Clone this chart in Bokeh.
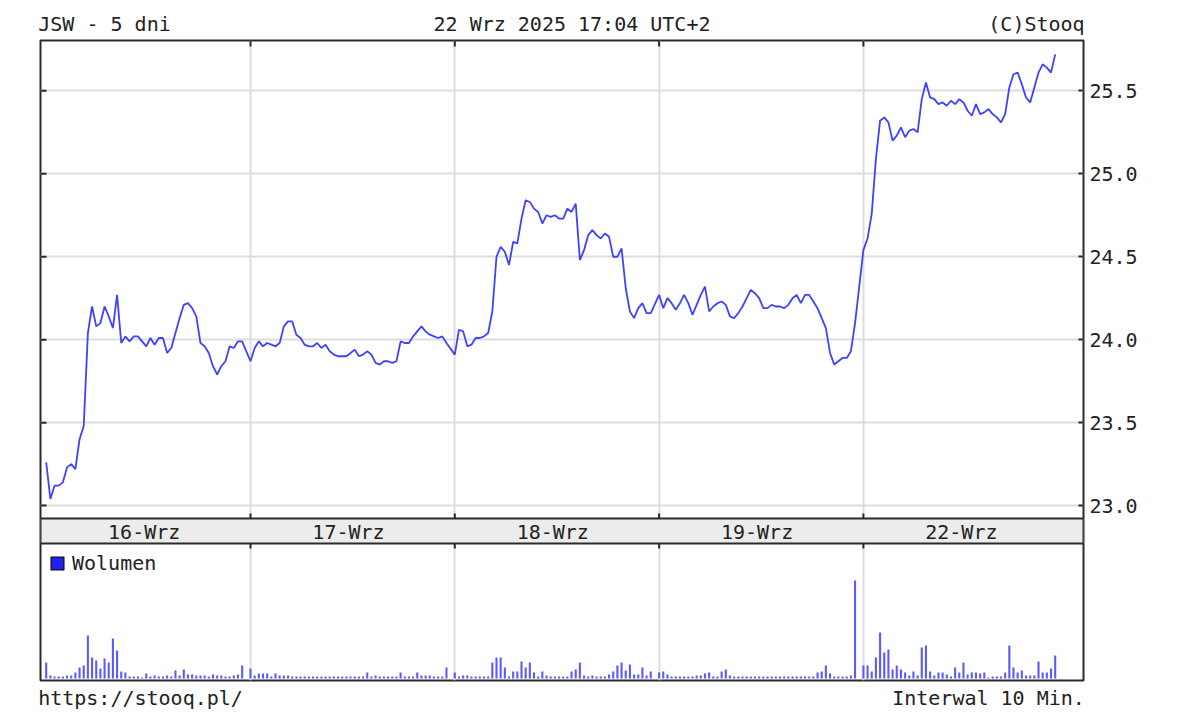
from bokeh.plotting import figure
from bokeh.models import (Range1d, LinearAxis, FixedTicker, PrintfTickFormatter, BoxAnnotation,
                          LabelSet, ColumnDataSource, Legend, LegendItem, Grid)
from bokeh.core.properties import value
from bokeh.embed import file_html
from bokeh.resources import INLINE

# ---------------- data ----------------
TITLE_LEFT = "JSW - 5 dni"
TITLE_CENTER = "22 Wrz 2025 17:04 UTC+2"
TITLE_RIGHT = "(C)Stooq"
FOOT_LEFT = "https://stooq.pl/"
FOOT_RIGHT = "Interwal 10 Min."
VOLUME_LABEL = "Wolumen"

day_labels = ["16-Wrz", "17-Wrz", "18-Wrz", "19-Wrz", "22-Wrz"]
price_ticks = [23.0, 23.5, 24.0, 24.5, 25.0, 25.5]

# 10-minute closes per session
price_16 = [23.26, 23.04, 23.12, 23.12, 23.14, 23.23, 23.25, 23.22, 23.40, 23.48,
            24.04, 24.20, 24.08, 24.10, 24.20, 24.14, 24.07, 24.27, 23.98, 24.02,
            23.99, 24.02, 24.02, 23.99, 23.96, 24.01, 23.97, 24.01, 24.01, 23.92,
            23.95, 24.04, 24.13, 24.21, 24.22, 24.19, 24.14, 23.98, 23.96, 23.92,
            23.84, 23.79, 23.84, 23.87, 23.96, 23.95, 23.99, 23.99]
price_17 = [23.87, 23.95, 23.99, 23.96, 23.98, 23.97, 23.96, 23.98, 24.08, 24.11,
            24.11, 24.03, 24.01, 23.97, 23.96, 23.96, 23.98, 23.95, 23.97, 23.93,
            23.91, 23.90, 23.90, 23.90, 23.92, 23.94, 23.90, 23.91, 23.93, 23.91,
            23.86, 23.85, 23.87, 23.87, 23.86, 23.87, 23.99, 23.98, 23.98, 24.02,
            24.05, 24.08, 24.05, 24.03, 24.02, 24.01, 24.02, 23.98]
price_18 = [23.91, 24.06, 24.05, 23.96, 23.97, 24.01, 24.01, 24.02, 24.04, 24.17,
            24.50, 24.56, 24.53, 24.45, 24.59, 24.58, 24.73, 24.84, 24.83, 24.79,
            24.77, 24.70, 24.75, 24.74, 24.75, 24.73, 24.73, 24.79, 24.77, 24.82,
            24.48, 24.54, 24.63, 24.66, 24.63, 24.61, 24.64, 24.62, 24.50, 24.50,
            24.55, 24.31, 24.17, 24.13, 24.19, 24.22, 24.16, 24.16]
price_19 = [24.27, 24.19, 24.25, 24.22, 24.18, 24.22, 24.27, 24.22, 24.15, 24.21,
            24.27, 24.32, 24.17, 24.20, 24.22, 24.23, 24.21, 24.14, 24.13, 24.16,
            24.20, 24.25, 24.30, 24.28, 24.25, 24.19, 24.19, 24.21, 24.20, 24.20,
            24.19, 24.21, 24.25, 24.27, 24.22, 24.27, 24.27, 24.23, 24.19, 24.13,
            24.07, 23.92, 23.85, 23.87, 23.89, 23.89, 23.93, 24.10]
price_22 = [24.54, 24.61, 24.76, 25.09, 25.32, 25.34, 25.31, 25.20, 25.23, 25.28,
            25.22, 25.26, 25.27, 25.25, 25.45, 25.55, 25.46, 25.45, 25.42, 25.43,
            25.41, 25.44, 25.42, 25.45, 25.43, 25.38, 25.35, 25.42, 25.36, 25.37,
            25.39, 25.36, 25.34, 25.31, 25.36, 25.52, 25.60, 25.61, 25.54, 25.46,
            25.43, 25.52, 25.61, 25.66, 25.64, 25.61, 25.72]

# volume per 10-minute bar (thousand shares, approx.)
vol_16 = [16, 3, 2, 2, 2, 3, 3, 6, 11, 13, 43, 21, 18, 10, 20, 16, 40, 28, 7, 6,
          2, 2, 2, 1, 5, 2, 3, 2, 2, 3, 2, 8, 3, 9, 4, 4, 3, 3, 3, 2,
          4, 3, 3, 2, 2, 3, 4, 13]
vol_17 = [10, 3, 5, 5, 5, 2, 5, 3, 3, 3, 2, 2, 2, 2, 2, 2, 2, 2, 2, 2,
          2, 2, 2, 2, 2, 2, 2, 2, 6, 2, 3, 2, 2, 2, 2, 2, 6, 2, 2, 2,
          6, 3, 3, 3, 2, 2, 2, 11]
vol_18 = [6, 2, 3, 3, 2, 2, 2, 2, 2, 16, 21, 21, 11, 2, 7, 7, 17, 11, 16, 6,
          2, 7, 3, 2, 2, 2, 2, 2, 7, 9, 16, 3, 2, 3, 2, 2, 2, 4, 7, 13,
          16, 8, 14, 4, 4, 11, 3, 7]
vol_19 = [6, 7, 4, 2, 2, 2, 2, 2, 2, 3, 3, 5, 6, 2, 2, 7, 9, 3, 2, 2,
          2, 2, 2, 2, 2, 2, 2, 2, 2, 2, 2, 2, 2, 2, 2, 2, 2, 2, 6, 7,
          13, 5, 2, 2, 2, 2, 3, 98]
vol_22 = [13, 13, 7, 21, 46, 26, 29, 9, 13, 9, 6, 3, 7, 3, 31, 33, 7, 3, 6, 6,
          4, 2, 11, 6, 16, 4, 6, 6, 5, 6, 1, 2, 2, 2, 6, 33, 11, 6, 8, 3,
          3, 3, 17, 6, 6, 10, 23]

prices = [price_16, price_17, price_18, price_19, price_22]
volumes = [vol_16, vol_17, vol_18, vol_19, vol_22]

# ---------------- layout / style ----------------
FONT = "DejaVu Sans Mono"
FS = "20px"
TEXT_COLOR = "#222222"
FRAME_COLOR = "#2a2a2a"
GRID_COLOR = "#dddddd"
LINE_COLOR = "#4040ff"
BAR_COLOR = "#5a5aff"

W, H = 1180, 715
FRAME_L, FRAME_R, FRAME_T, FRAME_B = 40, 1083, 40, 680
BAND_T, BAND_B = 518, 543
TICK_LEN = 5
SLOTS_PER_DAY = 49
SLOT_PX = 204.3 / SLOTS_PER_DAY
X0_PX = 45.7
PRICE_MID, PRICE_MID_PX, PX_PER_UNIT = 24.25, 297.7, 165.9
VOL_BASE_PX = 678
VOL_PER_PX = 1.0


def x_at(px):
    return (px - X0_PX) / SLOT_PX


def p_at(py):
    return PRICE_MID + (PRICE_MID_PX - py) / PX_PER_UNIT


xs, ys, vxs, vvs = [], [], [], []
for d, (pr, vo) in enumerate(zip(prices, volumes)):
    for i, pv in enumerate(pr):
        xs.append(d * SLOTS_PER_DAY + i)
        ys.append(pv)
    for i, vv in enumerate(vo):
        vxs.append(d * SLOTS_PER_DAY + i)
        vvs.append(vv)

p = figure(width=W, height=H,
           x_range=Range1d(x_at(FRAME_L), x_at(FRAME_R)),
           y_range=Range1d(p_at(FRAME_B), p_at(FRAME_T)),
           x_axis_type=None, y_axis_type=None,
           output_backend="svg", toolbar_location=None,
           min_border_left=FRAME_L, min_border_right=W - FRAME_R,
           min_border_top=FRAME_T, min_border_bottom=H - FRAME_B,
           background_fill_color="white", border_fill_color="white",
           outline_line_color=FRAME_COLOR, outline_line_width=2)
p.extra_y_ranges = {"vol": Range1d(-(FRAME_B - VOL_BASE_PX) * VOL_PER_PX,
                                   (VOL_BASE_PX - FRAME_T) * VOL_PER_PX)}

day_bounds = [d * SLOTS_PER_DAY for d in range(1, len(day_labels))]

p.add_layout(Grid(dimension=0, ticker=FixedTicker(ticks=day_bounds),
                  grid_line_color=GRID_COLOR, grid_line_width=2))
p.add_layout(Grid(dimension=1, ticker=FixedTicker(ticks=price_ticks),
                  grid_line_color=GRID_COLOR, grid_line_width=2))


def text_axis(ax, standoff):
    ax.axis_line_color = None
    ax.major_tick_line_color = None
    ax.minor_tick_line_color = None
    ax.major_tick_in = 0
    ax.major_tick_out = 0
    ax.major_label_text_font = FONT
    ax.major_label_text_font_size = FS
    ax.major_label_text_color = TEXT_COLOR
    ax.major_label_standoff = standoff


# right price axis (ticks inside the frame)
right_ax = LinearAxis(ticker=FixedTicker(ticks=price_ticks),
                      formatter=PrintfTickFormatter(format="%.1f"))
text_axis(right_ax, 6)
right_ax.major_tick_line_color = FRAME_COLOR
right_ax.major_tick_line_width = 2
right_ax.major_tick_in = TICK_LEN
p.add_layout(right_ax, "right")

# header line (three texts) carried by an axis above the frame
head_pos = [x_at(104), x_at(571.5), x_at(1036)]
head_txt = [TITLE_LEFT, TITLE_CENTER, TITLE_RIGHT]
head_ax = LinearAxis(ticker=FixedTicker(ticks=head_pos),
                     major_label_overrides=dict(zip(head_pos, head_txt)))
text_axis(head_ax, 5)
p.add_layout(head_ax, "above")

# footer line carried by an axis below the frame
foot_pos = [x_at(140), x_at(988)]
foot_txt = [FOOT_LEFT, FOOT_RIGHT]
foot_ax = LinearAxis(ticker=FixedTicker(ticks=foot_pos),
                     major_label_overrides=dict(zip(foot_pos, foot_txt)))
text_axis(foot_ax, 5)
p.add_layout(foot_ax, "below")

# price line and volume bars
p.line(xs, ys, line_color=LINE_COLOR, line_width=1.8)
p.vbar(x=vxs, top=vvs, bottom=0, width=0.5, y_range_name="vol",
       fill_color=BAR_COLOR, line_color=None)

# inner tick marks: left side (price levels), top side and band edges (day boundaries)
n_p, n_d = len(price_ticks), len(day_bounds)
p.segment(x0=[x_at(FRAME_L)] * n_p, x1=[x_at(FRAME_L + TICK_LEN + 1)] * n_p,
          y0=price_ticks, y1=price_ticks, line_color=FRAME_COLOR, line_width=2)
p.segment(x0=day_bounds, x1=day_bounds, y0=[p_at(FRAME_T)] * n_d,
          y1=[p_at(FRAME_T + TICK_LEN + 1)] * n_d, line_color=FRAME_COLOR, line_width=2)
p.segment(x0=day_bounds, x1=day_bounds, y0=[p_at(BAND_T)] * n_d,
          y1=[p_at(BAND_T - TICK_LEN)] * n_d, line_color=FRAME_COLOR, line_width=2)
p.segment(x0=day_bounds, x1=day_bounds, y0=[p_at(BAND_B)] * n_d,
          y1=[p_at(BAND_B + TICK_LEN)] * n_d, line_color=FRAME_COLOR, line_width=2)

# date band
p.add_layout(BoxAnnotation(bottom=p_at(BAND_B), top=p_at(BAND_T),
                           fill_color="#ececec", fill_alpha=1.0,
                           line_color=FRAME_COLOR, line_width=2, line_alpha=1.0))
band_src = ColumnDataSource(dict(
    x=[d * SLOTS_PER_DAY + 23.5 for d in range(len(day_labels))],
    y=[p_at((BAND_T + BAND_B) / 2 + 1)] * len(day_labels),
    text=day_labels))
p.add_layout(LabelSet(x="x", y="y", text="text", source=band_src,
                      text_align="center", text_baseline="middle",
                      text_font=value(FONT), text_font_size=value(FS),
                      text_color=TEXT_COLOR))

# legend for volume (swatch renderer has no drawable coordinates)
nan = float("nan")
swatch = p.quad(left=[nan], right=[nan], top=[nan], bottom=[nan], fill_color="#2020ff",
                line_color="#111111", line_width=1.3)
legend = Legend(items=[LegendItem(label=VOLUME_LABEL, renderers=[swatch])],
                location=(9, 105), padding=0, margin=0, spacing=0,
                glyph_width=16, glyph_height=16, label_standoff=7,
                label_text_font=FONT, label_text_font_size=FS,
                label_text_color=TEXT_COLOR,
                background_fill_alpha=0, border_line_color=None)
p.add_layout(legend)

open("out.html", "w").write(file_html(p, INLINE))
